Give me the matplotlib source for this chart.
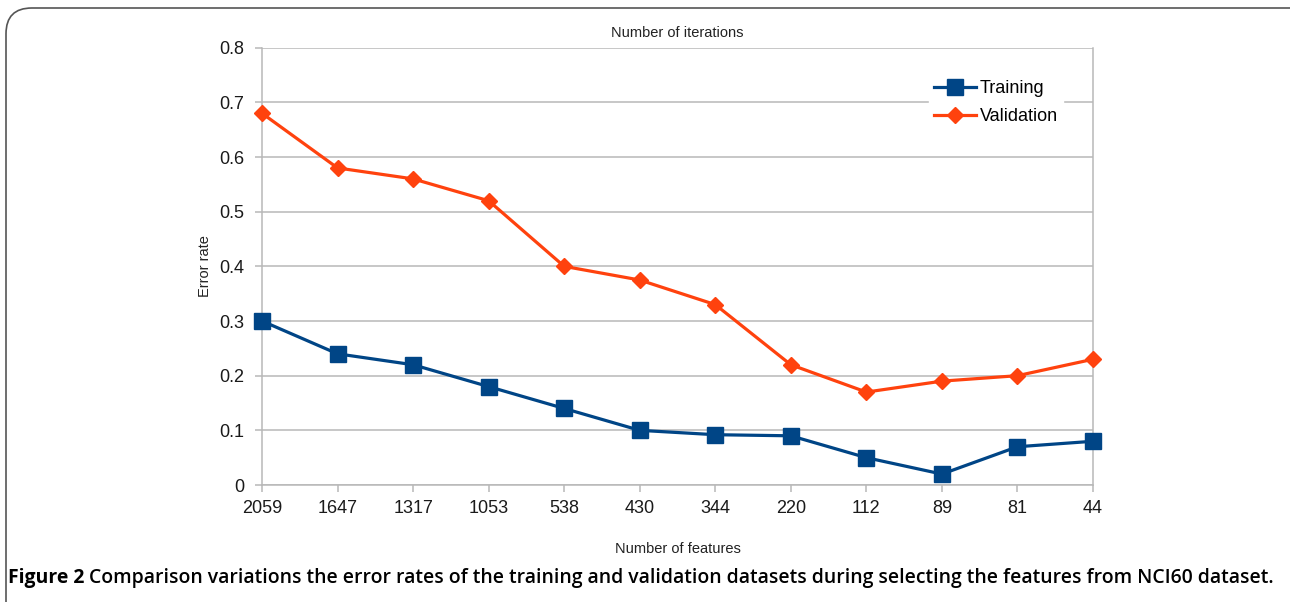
import numpy as np
import matplotlib
matplotlib.use("Agg")
import matplotlib.pyplot as plt
from matplotlib.patches import FancyBboxPatch

# values
feature_counts = ["2059", "1647", "1317", "1053", "538", "430", "344", "220", "112", "89", "81", "44"]
training_error = [0.30, 0.24, 0.22, 0.18, 0.14, 0.10, 0.092, 0.09, 0.05, 0.02, 0.07, 0.08]
validation_error = [0.68, 0.58, 0.56, 0.52, 0.40, 0.375, 0.33, 0.22, 0.17, 0.19, 0.20, 0.23]
y_ticks = [0, 0.1, 0.2, 0.3, 0.4, 0.5, 0.6, 0.7, 0.8]
y_tick_labels = ["0", "0.1", "0.2", "0.3", "0.4", "0.5", "0.6", "0.7", "0.8"]
caption_bold = "Figure 2"
caption_rest = ("Comparison variations the error rates of the training and validation "
                "datasets during selecting the features from NCI60 dataset.")

W, H = 1290, 602
fig = plt.figure(figsize=(W / 100, H / 100), dpi=100)
plt.rcParams['font.family'] = ['Liberation Sans', 'DejaVu Sans']

# rounded frame around the whole figure (open at the bottom / right)
frame = FancyBboxPatch((6 / W, -0.2), 1.2, 0.2 + 1 - 8 / H,
                       boxstyle="round,pad=0,rounding_size=0.02",
                       transform=fig.transFigure, fill=False,
                       edgecolor='#555555', linewidth=1.2, clip_on=False,
                       mutation_aspect=W / H)
fig.patches.append(frame)

ax = fig.add_axes([262 / W, 1 - 485 / H, (1093 - 262) / W, (485 - 47.7) / H])

x = np.arange(len(feature_counts))
ax.plot(x, training_error, color='#004586', linewidth=2.3, marker='s',
        markersize=11.5, label='Training', zorder=4, clip_on=False)
ax.plot(x, validation_error, color='#ff420e', linewidth=2.3, marker='D',
        markersize=8.5, label='Validation', zorder=3, clip_on=False)

ax.set_xlim(0, len(feature_counts) - 1)
ax.set_ylim(0, 0.8)
ax.set_xticks(x)
ax.set_xticklabels(feature_counts)
ax.set_yticks(y_ticks)
ax.set_yticklabels(y_tick_labels)

ax.grid(axis='y', color='#b8b8b8', linewidth=1.1)
ax.set_axisbelow(True)
for side in ['left', 'bottom', 'right']:
    ax.spines[side].set_color('#b8b8b8')
    ax.spines[side].set_linewidth(1.1)
ax.spines['top'].set_visible(False)
ax.tick_params(axis='both', colors='#b8b8b8', labelcolor='#1a1a1a',
               labelsize=13, length=5, width=1.1)
ax.tick_params(axis='x', pad=6)
ax.tick_params(axis='y', pad=8)

ax.set_title("Number of iterations", fontsize=10.5, color='#222222', pad=8)
ax.set_ylabel("Error rate", fontsize=10.5, color='#222222', labelpad=5)
ax.set_xlabel("Number of features", fontsize=10.5, color='#222222', labelpad=18)

leg = ax.legend(loc='upper left', bbox_to_anchor=(920 / W, 1 - 66 / H),
                bbox_transform=fig.transFigure, fontsize=13, frameon=True,
                fancybox=False, handlelength=2.3, handletextpad=0.2,
                labelspacing=0.6, borderpad=0.3)
leg.get_frame().set_facecolor('white')
leg.get_frame().set_edgecolor('white')
leg.get_frame().set_alpha(1)

# caption: bold "Figure 2" followed by regular text, fitted to the frame width
cap_y = 1 - 578 / H
cap_font = ['Open Sans', 'DejaVu Sans']
size = 14.5
t1 = fig.text(8 / W, cap_y, caption_bold, fontsize=size, fontweight='bold',
              family=cap_font, va='center', ha='left')
t2 = fig.text(0, cap_y, caption_rest, fontsize=size, fontweight='semibold',
              family=cap_font, va='center', ha='left')
fig.canvas.draw()
total = t1.get_window_extent().width + 5 + t2.get_window_extent().width
size = size * (1266 / total)
t1.set_fontsize(size)
t2.set_fontsize(size)
fig.canvas.draw()
bb = t1.get_window_extent()
t2.set_x((bb.x1 + 5) / W)

fig.savefig("out.png", dpi=100)
